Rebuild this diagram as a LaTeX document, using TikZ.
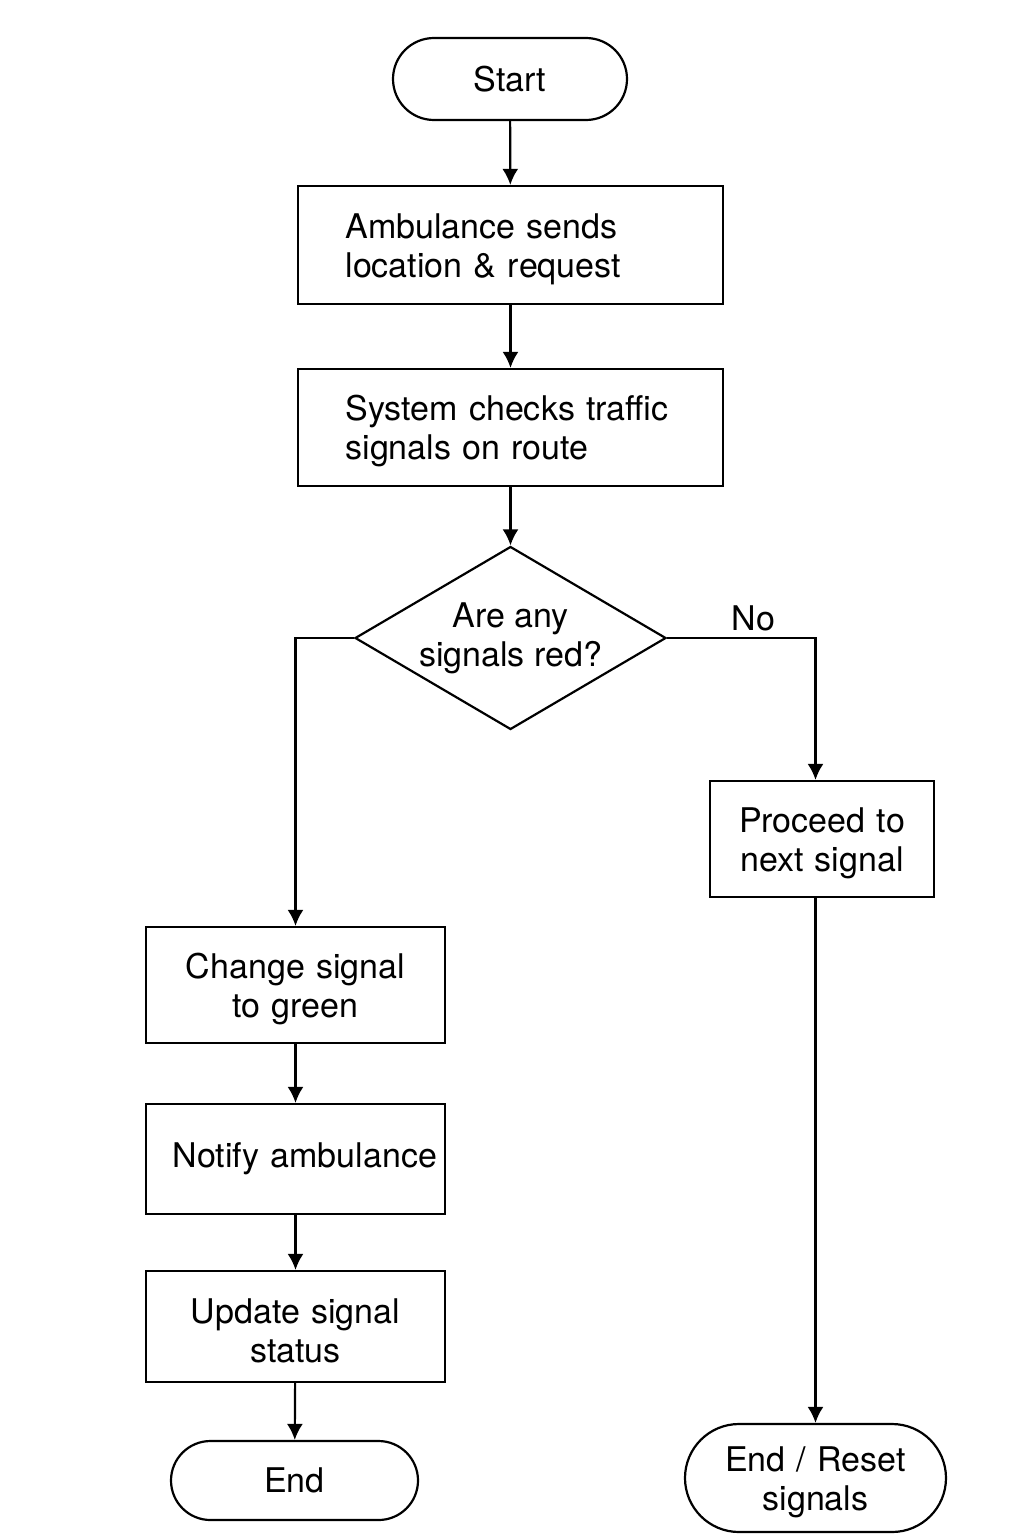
\documentclass[tikz,border=0pt]{standalone}
\usepackage{fontspec}
\setmainfont{TeX Gyre Heros}
\usetikzlibrary{arrows.meta,shapes.geometric,shapes.misc}

\begin{document}
\begin{tikzpicture}[x=1pt,y=-1pt,
>={Latex[length=16pt,width=16pt]},
every node/.style={font=\fontsize{34}{39}\selectfont},
every path/.style={line width=2.2pt},
box/.style={draw,rectangle,inner sep=0pt,align=center},
term/.style={draw,rounded rectangle,inner sep=0pt,align=center},
twoline/.style={execute at begin node=\rule{0pt}{33pt}},
decision/.style={draw,diamond,aspect=1.7,inner sep=0pt,align=center,
  minimum width=311pt,minimum height=183pt}]

\useasboundingbox (0,0) rectangle (1024,1536);

\node[term,minimum width=234pt,minimum height=82pt] (start) at (510,79) {Start};
\node[box,twoline,minimum width=425pt,minimum height=118pt,text width=330pt,align=left] (send) at (510.5,245) {Ambulance sends\\location \& request};
\node[box,twoline,minimum width=425pt,minimum height=117pt,text width=330pt,align=left] (check) at (510.5,427.5) {System checks traffic\\signals on route};
\node[decision] (red) at (510.5,638) {Are any\\signals red?};

\node[box,twoline,minimum width=224pt,minimum height=116pt,text width=210pt] (proceed) at (822,839) {Proceed to\\next signal};
\node[term,twoline,minimum width=261pt,minimum height=108pt,text width=185pt] (reset) at (815.5,1478) {End / Reset\\signals};

\node[box,twoline,minimum width=299pt,minimum height=116pt,text width=260pt] (green) at (295.5,985) {Change signal\\to green};
\node[box,minimum width=299pt,minimum height=110pt,text width=283pt,align=right] (notify) at (295.5,1159) {Notify ambulance};
\node[box,twoline,minimum width=299pt,minimum height=111pt,text width=260pt] (update) at (295.5,1326.5) {Update signal\\status};
\node[term,minimum width=247pt,minimum height=79pt] (end) at (294.5,1480.5) {End};

\draw[->] (start) -- (send);
\draw[->] (send) -- (check);
\draw[->] (check) -- (red);
\draw[->] (red.west) -| (green.north);
\draw[->] (red.east) -| node[pos=0.29,above,yshift=3pt] (no) {No} (proceed.north -| reset.north);
\draw[->] (proceed.south -| reset.north) -- (reset.north);
\draw[->] (green) -- (notify);
\draw[->] (notify) -- (update);
\draw[->] (update) -- (end);

\end{tikzpicture}
\end{document}
